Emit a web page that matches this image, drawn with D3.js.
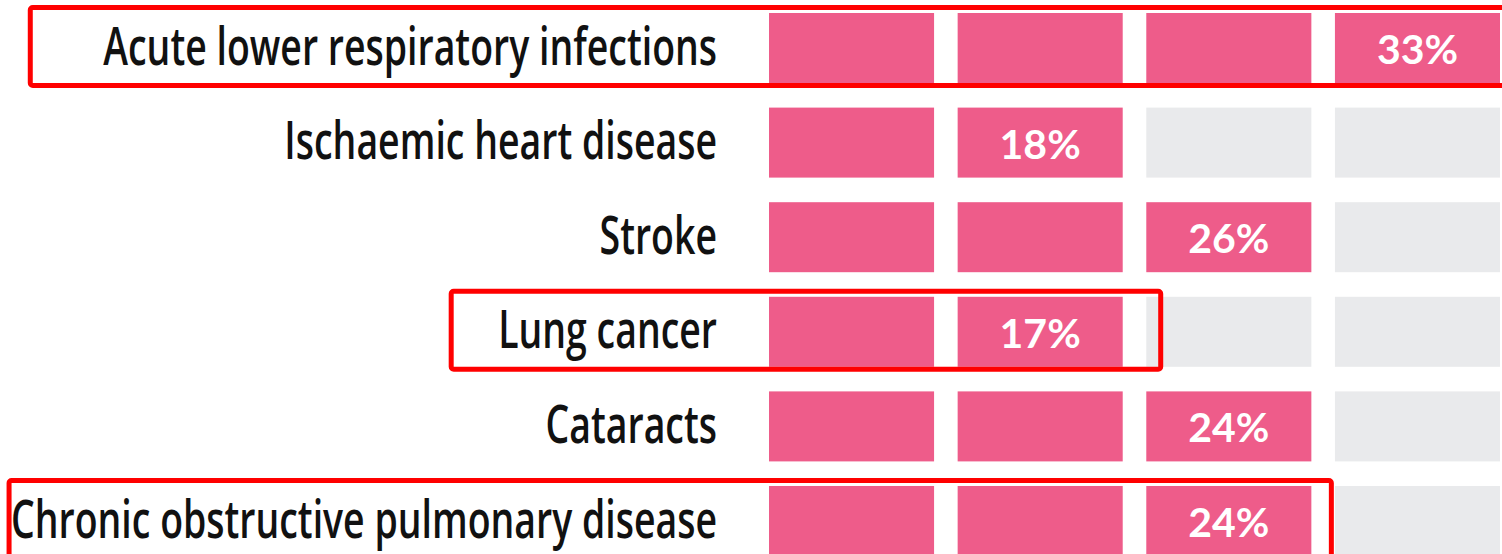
<!DOCTYPE html>
<html>
<head>
<meta charset="utf-8">
<script src="https://cdn.jsdelivr.net/npm/d3@7"></script>
<style>
  html, body { margin: 0; padding: 0; background: #fff; overflow: hidden; }
  .label { font-family: "Open Sans", "Noto Sans", sans-serif; font-weight: 600; fill: #111; }
  .pct { font-family: Lato, "DejaVu Sans", sans-serif; font-weight: 700; fill: #fff; }
</style>
</head>
<body>
<svg id="chart"></svg>
<script>
var width = 1502, height = 554;

// data
var causes = ["Acute lower respiratory infections", "Ischaemic heart disease", "Stroke",
              "Lung cancer", "Cataracts", "Chronic obstructive pulmonary disease"];
var shares = [33, 18, 26, 17, 24, 24];
var filledBlocks = [4, 2, 3, 2, 3, 3];
var blockSlots = [0, 1, 2, 3];
// rows boxed in red, with how far the box reaches past the label and past the last filled block
var boxedRows = ["Acute lower respiratory infections", "Lung cancer", "Chronic obstructive pulmonary disease"];
var boxPadLeft = [73, 47, 2];
var boxPadRight = [60, 38, 20];

var pink = "#ee5c8a", grey = "#e9eaec", red = "#ff0000";
var labelRight = 717, squeeze = 0.72;   // no condensed face installed, so squeeze the labels

var svg = d3.select("#chart").attr("width", width).attr("height", height);

var y = d3.scaleBand().domain(causes).range([13, 556]).paddingInner(0.26).paddingOuter(0);
var x = d3.scaleBand().domain(blockSlots).range([769, 1500]).paddingInner(0.125).paddingOuter(0);

var rows = causes.map(function(c, i) {
  return { cause: c, share: shares[i], filled: filledBlocks[i] };
});

var row = svg.selectAll(".row")
  .data(rows)
  .enter().append("g")
    .attr("class", "row")
    .attr("transform", function(d) { return "translate(0," + y(d.cause) + ")"; });

row.selectAll("rect")
  .data(function(d) { return blockSlots.map(function(s) { return { slot: s, on: s < d.filled }; }); })
  .enter().append("rect")
    .attr("x", function(d) { return x(d.slot); })
    .attr("y", 0)
    .attr("width", x.bandwidth())
    .attr("height", y.bandwidth())
    .style("fill", function(d) { return d.on ? pink : grey; });

var labels = row.append("text")
    .attr("class", "label")
    .attr("x", labelRight)
    .attr("y", y.bandwidth() / 2 + 16.5)
    .attr("text-anchor", "end")
    .style("font-size", "52px")
    .text(function(d) { return d.cause; });

labels.each(function() {
  var w = this.getComputedTextLength();
  d3.select(this)
    .attr("textLength", w * squeeze)
    .attr("lengthAdjust", "spacingAndGlyphs");
});

row.append("text")
    .attr("class", "pct")
    .attr("x", function(d) { return x(d.filled - 1) + x.bandwidth() / 2; })
    .attr("y", y.bandwidth() / 2 + 16)
    .attr("text-anchor", "middle")
    .style("font-size", "41px")
    .text(function(d) { return d.share + "%"; });

// red highlight boxes
boxedRows.forEach(function(name, k) {
  var i = causes.indexOf(name);
  var lab = labels.filter(function(d) { return d.cause === name; }).node();
  var left = labelRight - (+lab.getAttribute("textLength")) - boxPadLeft[k];
  var right = filledBlocks[i] >= blockSlots.length ? width + 20
            : x(filledBlocks[i] - 1) + x.bandwidth() + boxPadRight[k];
  svg.append("rect")
    .attr("x", left)
    .attr("y", y(name) - 5.5)
    .attr("width", right - left)
    .attr("height", y.bandwidth() + 8)
    .attr("rx", 2.5)
    .style("fill", "none")
    .style("stroke", red)
    .style("stroke-width", 5);
});
</script>
</body>
</html>
